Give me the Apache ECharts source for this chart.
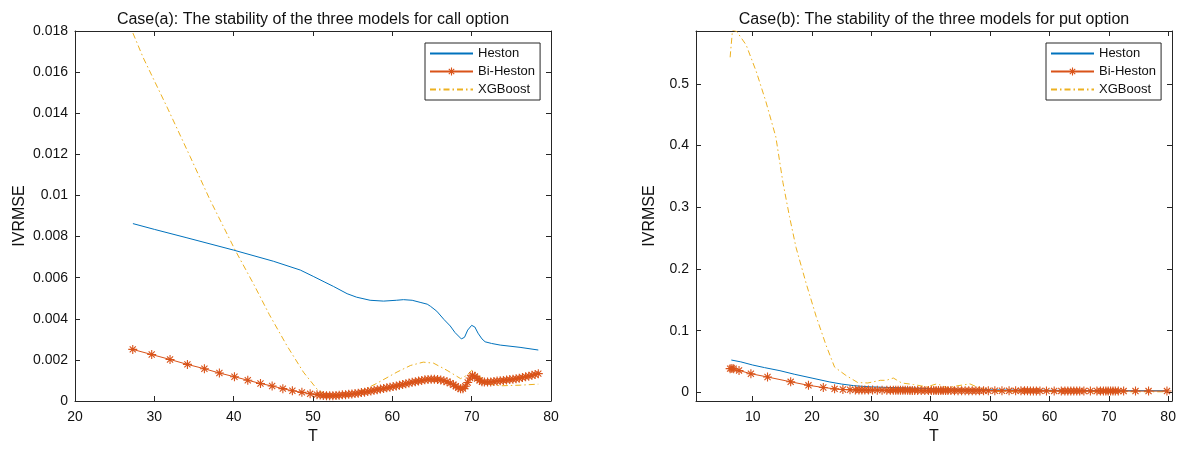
<!DOCTYPE html>
<html><head><meta charset="utf-8">
<script src="https://cdn.jsdelivr.net/npm/echarts@6/dist/echarts.min.js"></script>
<style>html,body{margin:0;padding:0;background:#fff}#c{width:1181px;height:450px}</style>
</head><body><div id="c"></div>
<script>
// ---------- names and labels ----------
const seriesNames = ['Heston', 'Bi-Heston', 'XGBoost'];
const titleCall = 'Case(a): The stability of the three models for call option';
const titlePut = 'Case(b): The stability of the three models for put option';
const xName = 'T';
const yName = 'IVRMSE';

// ---------- tick labels ----------
const callXTicks = [20, 30, 40, 50, 60, 70, 80];
const callYTicks = [0, 0.002, 0.004, 0.006, 0.008, 0.01, 0.012, 0.014, 0.016, 0.018];
const putXTicks = [10, 20, 30, 40, 50, 60, 70, 80];
const putYTicks = [0, 0.1, 0.2, 0.3, 0.4, 0.5];

// ---------- Case(a): call option ----------
const callHestonT = [27.3, 30, 34, 40, 45, 48.4, 50.1, 51.5, 52.6, 54.3, 55.5, 57.2, 58.9, 60.5, 61.4, 62.5, 63.5, 64.4, 64.8, 65.6, 66.5, 67.3, 67.9, 68.7, 69.1, 69.5, 70.0, 70.4, 70.8, 71.3, 71.7, 72.5, 73.6, 76.1, 78.4];
const callHestonV = [0.00863, 0.00835, 0.00795, 0.00734, 0.0068, 0.00637, 0.00605, 0.00578, 0.00557, 0.00522, 0.00505, 0.0049, 0.00486, 0.0049, 0.00493, 0.0049, 0.0048, 0.00471, 0.00461, 0.00437, 0.00397, 0.00365, 0.00333, 0.00302, 0.0031, 0.00345, 0.00368, 0.0036, 0.0033, 0.00302, 0.00288, 0.0028, 0.00272, 0.00261, 0.00248];

const callBiT = [27.28, 29.67, 31.98, 34.17, 36.31, 38.2, 40.1, 41.78, 43.38, 44.85, 46.2, 47.4, 48.6, 49.64,
  50.5, 50.9, 51.3, 51.7, 52.1, 52.5, 52.9, 53.3, 53.7, 54.1, 54.5, 54.9, 55.3, 55.7, 56.1, 56.5, 56.9, 57.3, 57.7, 58.1,
  58.5, 58.9, 59.3, 59.7, 60.1, 60.5, 60.9, 61.3, 61.7, 62.1, 62.5, 62.9, 63.3, 63.7, 64.1, 64.5, 64.9, 65.3, 65.7, 66.1,
  66.5, 66.9, 67.3, 67.7, 68.0, 68.3, 68.6, 68.9, 69.2, 69.5, 69.8, 70.1, 70.4, 70.7, 71.0, 71.3, 71.6, 72.0, 72.4, 72.8,
  73.2, 73.6, 74.0, 74.4, 74.8, 75.2, 75.6, 76.0, 76.4, 76.8, 77.2, 77.6, 78.0, 78.4];
const callBiV = [0.00251, 0.00226, 0.00202, 0.00178, 0.00157, 0.00136, 0.00118, 0.00101, 0.00085, 0.00073, 0.0006, 0.0005, 0.00042, 0.00035,
  0.00031, 0.00029, 0.00027, 0.00026, 0.00026, 0.00026, 0.00027, 0.00028, 0.0003, 0.00031, 0.00033, 0.00034, 0.00036, 0.00038, 0.00041, 0.00043, 0.00046, 0.00049, 0.00052, 0.00055,
  0.00058, 0.00061, 0.00064, 0.00067, 0.0007, 0.00073, 0.00077, 0.0008, 0.00084, 0.00087, 0.00091, 0.00094, 0.00097, 0.001, 0.00103, 0.00105, 0.00106, 0.00106, 0.00105, 0.00102,
  0.00099, 0.00094, 0.00087, 0.00079, 0.00072, 0.00065, 0.00059, 0.0006, 0.00072, 0.0009, 0.00112, 0.00125, 0.0012, 0.00109, 0.001, 0.00094, 0.00092, 0.00092, 0.00093, 0.00095,
  0.00097, 0.00098, 0.001, 0.00102, 0.00104, 0.00106, 0.00108, 0.00111, 0.00114, 0.00118, 0.00121, 0.00125, 0.00129, 0.00133];

const callXgbT = [27.3, 28.6, 31.6, 34.5, 37.0, 40.2, 42.5, 44.5, 46.7, 48.8, 50.5, 51.3, 52.0, 53.0, 55.5, 58.0, 60.6, 62.3, 63.9, 65.2, 66.9, 68.6, 69.4, 70.0, 70.9, 71.5, 72.5, 73.6, 76.1, 78.4];
const callXgbV = [0.0179, 0.0167, 0.0143, 0.0119, 0.0098, 0.00733, 0.0057, 0.0042, 0.0027, 0.0014, 0.00058, 0.00037, 0.0003, 0.00029, 0.00037, 0.00085, 0.00141, 0.00173, 0.00189, 0.00184, 0.00149, 0.00109, 0.00125, 0.00149, 0.00125, 0.00095, 0.0008, 0.00074, 0.00077, 0.00082];

// ---------- Case(b): put option ----------
const putHestonT = [6.4, 8, 10, 12, 14.6, 17, 20, 23, 25, 27, 28.5, 30, 32, 35, 38, 42, 46, 50, 55, 60, 65, 70, 75, 79.8];
const putHestonV = [0.0525, 0.0495, 0.0444, 0.0402, 0.0352, 0.0295, 0.0232, 0.0169, 0.0135, 0.011, 0.0098, 0.009, 0.0083, 0.0075, 0.0066, 0.0056, 0.0048, 0.0042, 0.0037, 0.0034, 0.0031, 0.0029, 0.0028, 0.0027];

const putBiT = [6.2, 6.5, 6.8, 7.7, 9.7, 12.5, 16.4, 19.4, 21.9, 23.8, 25.2, 26.4, 27.3, 27.9, 28.4, 28.9, 29.5, 30.2, 31.0, 31.8,
  32.6, 33.2, 33.7, 34.1, 34.5, 34.9, 35.3, 35.7, 36.1, 36.5, 36.9, 37.3, 37.8, 38.4, 39.0, 39.6, 40.1, 40.5, 40.9, 41.3,
  41.7, 42.1, 42.5, 42.9, 43.4, 44.0, 44.6, 45.2, 45.8, 46.4, 47.0, 47.6, 48.2, 48.9, 49.7, 50.8, 52.0, 53.2, 54.3, 55.2,
  55.8, 56.3, 56.8, 57.3, 57.8, 58.4, 59.5, 60.8, 62.0, 62.6, 63.1, 63.6, 64.1, 64.6, 65.1, 65.8, 66.9, 68.0, 68.6, 69.1,
  69.5, 69.9, 70.3, 70.7, 71.1, 71.6, 72.5, 74.5, 76.7, 79.8];
const putBiV = [0.0385, 0.0388, 0.0383, 0.0356, 0.0303, 0.025, 0.0172, 0.0115, 0.008, 0.0058, 0.0048, 0.0043, 0.0041, 0.004, 0.0039, 0.0039, 0.0038, 0.0038, 0.0037, 0.0037,
  0.0036, 0.0036, 0.0035, 0.0035, 0.0035, 0.0034, 0.0034, 0.0034, 0.0034, 0.0033, 0.0033, 0.0033, 0.0033, 0.0032, 0.0032, 0.0032, 0.0031, 0.0031, 0.0031, 0.0031,
  0.003, 0.003, 0.003, 0.003, 0.003, 0.0029, 0.0029, 0.0029, 0.0029, 0.0028, 0.0028, 0.0028, 0.0028, 0.0028, 0.0027, 0.0027, 0.0027, 0.0026, 0.0026, 0.0026,
  0.0026, 0.0026, 0.0025, 0.0025, 0.0025, 0.0025, 0.0025, 0.0024, 0.0024, 0.0024, 0.0024, 0.0024, 0.0024, 0.0024, 0.0023, 0.0023, 0.0023, 0.0023, 0.0023, 0.0023,
  0.0023, 0.0023, 0.0023, 0.0022, 0.0022, 0.0022, 0.0022, 0.0022, 0.0022, 0.0022];

const putXgbT = [6.2, 6.6, 7.3, 8.9, 10.6, 12.2, 13.9, 15.1, 16.2, 17.3, 19.0, 20.7, 22.4, 23.8, 25.7, 27.7, 29.4, 31.5, 32.5, 33.7, 34.2, 35.1, 37.1, 39.3, 41.0, 41.5, 42.7, 44.4, 46.6, 47.5, 49.5, 51, 55, 60, 65, 70, 75, 79.8];
const putXgbV = [0.543, 0.587, 0.585, 0.563, 0.52, 0.472, 0.414, 0.34, 0.285, 0.235, 0.177, 0.123, 0.0755, 0.041, 0.0276, 0.016, 0.0153, 0.0196, 0.0196, 0.0233, 0.0205, 0.0153, 0.0128, 0.009, 0.0138, 0.0125, 0.0074, 0.0106, 0.0138, 0.01, 0.0037, 0.0015, 0.0012, 0.0013, 0.0011, 0.0012, 0.001, 0.001];

// ---------- styling ----------
const colors = ['#0072BD', '#D95319', '#EDB120'];
const axisColor = '#262626';
const fontFamily = 'Liberation Sans, Arial, sans-serif';
const starPath = 'path://M0 5L10 5M5 0L5 10M1.6 1.6L8.4 8.4M8.4 1.6L1.6 8.4';
const clear = 'rgba(0,0,0,0)';

const pairs = (xs, ys) => xs.map((x, i) => [x, ys[i]]);
const fmt = v => String(parseFloat(v.toFixed(4)));

function xAxes(gridIndex, min, max, ticks) {
  const base = {
    type: 'value', gridIndex, min, max,
    axisLine: { show: true, onZero: false, lineStyle: { color: axisColor, width: 1 } },
    splitLine: { show: false },
    axisTick: { show: true, inside: true, length: 5, customValues: ticks, lineStyle: { color: axisColor } }
  };
  return [
    Object.assign({}, base, {
      position: 'bottom',
      axisLabel: { show: true, customValues: ticks, formatter: fmt, color: '#111', fontSize: 14, fontFamily, margin: 9, showMinLabel: true, showMaxLabel: true },
      name: xName, nameLocation: 'middle', nameGap: 28,
      nameTextStyle: { color: '#111', fontSize: 16, fontFamily }
    }),
    Object.assign({}, base, { position: 'top', axisLabel: { show: false } })
  ];
}
function yAxes(gridIndex, min, max, ticks, nameGap) {
  const base = {
    type: 'value', gridIndex, min, max,
    axisLine: { show: true, onZero: false, lineStyle: { color: axisColor, width: 1 } },
    splitLine: { show: false },
    axisTick: { show: true, inside: true, length: 5, customValues: ticks, lineStyle: { color: axisColor } }
  };
  return [
    Object.assign({}, base, {
      position: 'left',
      axisLabel: { show: true, customValues: ticks, formatter: fmt, color: '#111', fontSize: 14, fontFamily, margin: 7, showMinLabel: true, showMaxLabel: true },
      name: yName, nameLocation: 'middle', nameGap,
      nameTextStyle: { color: '#111', fontSize: 16, fontFamily }
    }),
    Object.assign({}, base, { position: 'right', axisLabel: { show: false } })
  ];
}

function makeSeries(xi, yi, hT, hV, bT, bV, gT, gV) {
  return [
    { name: seriesNames[0], type: 'line', xAxisIndex: xi, yAxisIndex: yi, data: pairs(hT, hV),
      symbol: 'none', lineStyle: { color: colors[0], width: 1 }, itemStyle: { color: clear, borderWidth: 0 }, z: 3 },
    { name: seriesNames[1], type: 'line', xAxisIndex: xi, yAxisIndex: yi, data: pairs(bT, bV),
      symbol: starPath, symbolSize: 9, showSymbol: true, showAllSymbol: true,
      lineStyle: { color: colors[1], width: 1 },
      itemStyle: { color: clear, borderColor: colors[1], borderWidth: 1.1 }, z: 4 },
    { name: seriesNames[2], type: 'line', xAxisIndex: xi, yAxisIndex: yi, data: pairs(gT, gV),
      symbol: 'none', lineStyle: { color: colors[2], width: 1, type: [6, 3, 1.5, 3] }, itemStyle: { color: clear, borderWidth: 0 }, z: 2 }
  ];
}

function legend(left) {
  return {
    data: [
      { name: seriesNames[0], itemStyle: { color: clear, borderWidth: 0, opacity: 0 } },
      { name: seriesNames[1], itemStyle: { color: clear, borderColor: colors[1], borderWidth: 1.1 } },
      { name: seriesNames[2], itemStyle: { color: clear, borderWidth: 0, opacity: 0 } }
    ],
    orient: 'vertical', left, top: 43,
    itemWidth: 43, itemHeight: 10, itemGap: 5,
    padding: [4, 5, 4, 4],
    borderColor: axisColor, borderWidth: 1, backgroundColor: '#fff',
    textStyle: { color: '#111', fontSize: 13, fontFamily },
    selectedMode: false
  };
}

const chart = echarts.init(document.getElementById('c'), null, { renderer: 'canvas' });
chart.setOption({
  animation: false,
  backgroundColor: '#fff',
  title: [
    { text: titleCall, left: 308, top: 7, textAlign: 'center', textStyle: { color: '#111', fontSize: 16, fontWeight: 'normal', fontFamily } },
    { text: titlePut, left: 929, top: 7, textAlign: 'center', textStyle: { color: '#111', fontSize: 16, fontWeight: 'normal', fontFamily } }
  ],
  legend: [legend(425), legend(1046)],
  grid: [
    { left: 75, top: 31, width: 476, height: 375 },
    { left: 696, top: 31, width: 476, height: 375 }
  ],
  xAxis: [].concat(xAxes(0, 20, 80, callXTicks), xAxes(1, 0.45, 80.65, putXTicks)),
  yAxis: [].concat(yAxes(0, 0, 0.018, callYTicks, 47), yAxes(1, -0.0139, 0.5856, putYTicks, 38)),
  series: [].concat(
    makeSeries(0, 0, callHestonT, callHestonV, callBiT, callBiV, callXgbT, callXgbV),
    makeSeries(2, 2, putHestonT, putHestonV, putBiT, putBiV, putXgbT, putXgbV)
  )
});
</script>
</body></html>
